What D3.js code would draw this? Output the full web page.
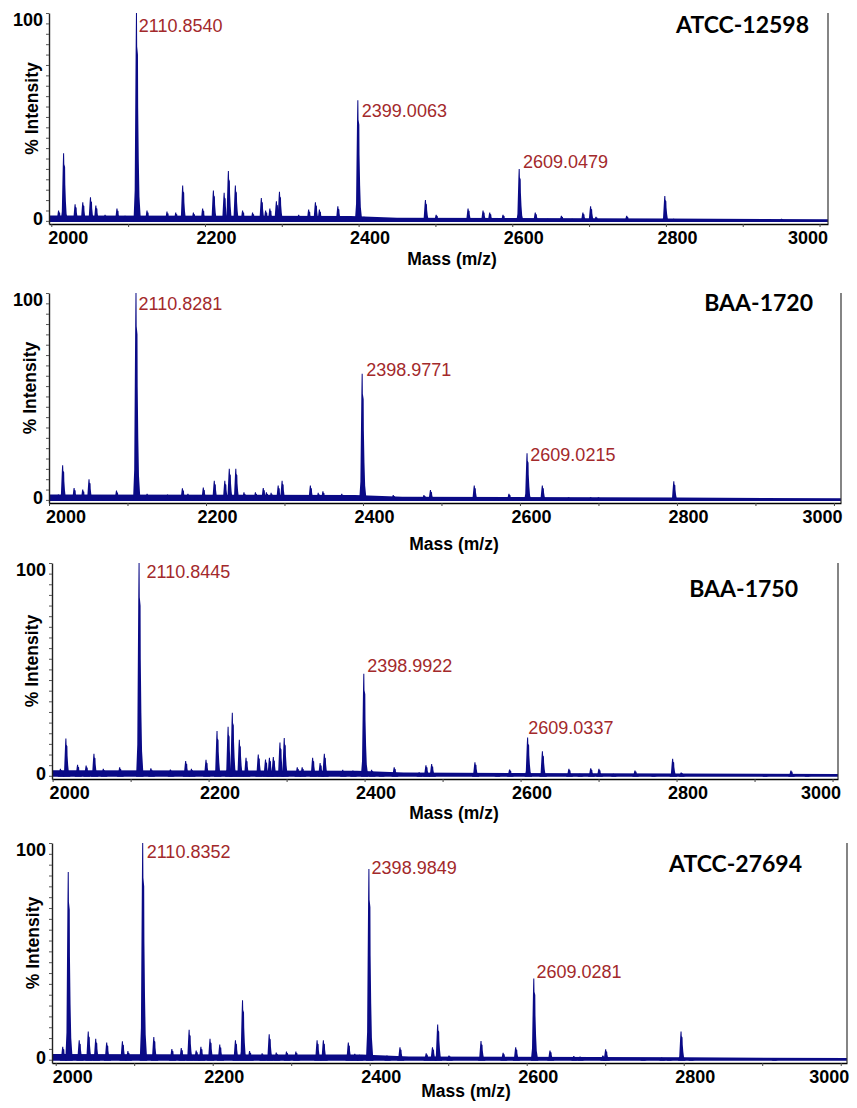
<!DOCTYPE html>
<html>
<head>
<meta charset="utf-8">
<script src="https://cdn.jsdelivr.net/npm/d3@7"></script>
<style>
  body { margin: 0; background: #fff; }
  svg { display: block; }
</style>
</head>
<body>
<svg width="857" height="1108"></svg>
<script>
//strain names, one per panel
const strains = ['ATCC-12598', 'BAA-1720', 'BAA-1750', 'ATCC-27694'];

//labelled peaks: m/z and % intensity
const labelMasses = [
   [2110.8540, 2399.0063, 2609.0479],
   [2110.8281, 2398.9771, 2609.0215],
   [2110.8445, 2398.9922, 2609.0337],
   [2110.8352, 2398.9849, 2609.0281]
];
const labelIntensities = [
   [100, 58, 25],
   [100, 61, 22.6],
   [100, 48, 18],
   [100, 88, 37.5]
];

//other peaks [m/z, % intensity]
const atcc12598Peaks = [
   [2009.5,5],[2016,32.5],[2031,8],[2041,9],[2051,11.4],[2058,7.4],[2070,3],[2085.5,6],[2096,2.5],
   [2124.6,5],[2150.6,4.5],[2162,4],[2171,17],[2185,4],[2197,6],[2211,14.6],[2225,13.5],[2230.5,24],
   [2239.6,17],[2249,5],[2262,4],[2273.4,11],[2279,5],[2284.5,6],[2293,9.4],[2297,14],[2308,2],
   [2322,3],[2335,5.5],[2343.8,9],[2349,5.5],[2373,7],[2385,2],[2407,2],[2424,1.5],[2487,10],
   [2501,3],[2542.5,6],[2553,1],[2562,5],[2570.7,4],[2588,3],[2630,4],[2646,1],[2664,2.5],[2678,1],
   [2692,4],[2702,7],[2709,2],[2720,0.5],[2749,2.5],[2776,0.8],[2798.6,12],[2810,1],[2868,0.3],[2950.5,1]
];
const baa1720Peaks = [
   [2012,2.6],[2017.4,16.8],[2032,5.8],[2043,5],[2051,10],[2065,2.4],[2086,4.5],[2125,3],[2151,2.6],
   [2170,5.6],[2177,3],[2187,2],[2196.6,6],[2210.6,9.3],[2224,9.3],[2229.7,15],[2238,15],[2248.4,3.7],
   [2263,3.7],[2273,5.8],[2277,3.7],[2283,3.4],[2292,7],[2297,9.3],[2307,1.8],[2320,1.8],[2333,7],
   [2343,3.4],[2349,4.2],[2373,3],[2384,1],[2407,1.3],[2438.6,2.4],[2472,1],[2477.7,2.4],[2486,4.8],
   [2502,1],[2541.8,7],[2570,0.8],[2586,3],[2628.5,7],[2662,1.3],[2690,1.3],[2700,1.3],[2747,0.8],
   [2796,9],[2948,0.3]
];
const baa1750Peaks = [
   [2010,3.3],[2017,17.5],[2032,5.2],[2043,4.9],[2053,10.4],[2065,3.3],[2086,4],[2126,3.6],[2151,3],
   [2170.6,7],[2178,3.3],[2196.7,7.5],[2210.8,21],[2225,23],[2230.4,29.6],[2239.4,17],[2248,8.5],
   [2263.7,10],[2273,7.7],[2278,8.5],[2283,8.8],[2291.5,15.6],[2297,17.8],[2313.7,4],[2320,4],
   [2333.4,8.5],[2343,6],[2348.4,10.4],[2372,2.8],[2385,2.5],[2409,2.8],[2421,1.3],[2438,4],[2470,1.7],
   [2478.7,5],[2486,5.5],[2541.5,6.4],[2570,1],[2586,3],[2628,11.5],[2662,3.3],[2676,1],[2690,3.6],
   [2700.5,3.3],[2719,1],[2746.7,2.5],[2770,0.4],[2795,8],[2806,1.6],[2913,0.8],[2946.7,2.5],[2967,0.5]
];
const atcc27694Peaks = [
   [2009,6],[2016,86.6],[2030,9],[2041.5,13],[2051,9.7],[2065,8],[2085,8.5],[2092,4],[2125,10.5],
   [2148,5],[2160,5.4],[2170,13.8],[2179,4.3],[2185,6],[2196.6,9.7],[2209,7],[2229,9],[2238,27.4],
   [2247,4],[2263,3],[2272,11.8],[2281,3.4],[2294,3.8],[2306,3.8],[2333,9],[2341,9],[2372.8,8],
   [2381,2.8],[2387,2.3],[2422,2],[2438.6,5.8],[2472,3],[2480,5.8],[2486.6,16.3],[2501,2],[2541.8,8.6],
   [2570,3.2],[2586,5.8],[2629.7,4.3],[2660,1.7],[2668,1.5],[2697,2],[2700.6,4.8],[2748,0.8],[2772,1],
   [2781,0.5],[2796.6,13],[2809,0.8],[2915,0.6]
];
const spectra = [atcc12598Peaks, baa1720Peaks, baa1750Peaks, atcc27694Peaks];

//baseline noise level along the mass range
const noiseFloor = [[1995,2.6],[2390,2.4],[2450,1.5],[2800,1.1],[3011,0.8]];

const xTicks = [2000, 2100, 2200, 2300, 2400, 2500, 2600, 2700, 2800, 2900, 3000];
const yTicks = [0, 5, 10, 15, 20, 25, 30, 35, 40, 45, 50, 55, 60, 65, 70, 75, 80, 85, 90, 95, 100];

//panel frames (pixels) and mass window
const panels = [
   {top: 13,  bottom: 224,  left: 49, right: 828, xMin: 1997,   xMax: 3011, nameX: 809, nameY: 33,  massX: 452, massY: 265,  yLabX: 38,
    labOff: [[2.3,18.7],[4,17],[3.7,-0.6]]},
   {top: 293, bottom: 503,  left: 49, right: 841, xMin: 2000,   xMax: 3009, nameX: 813, nameY: 311, massX: 454, massY: 550,  yLabX: 36,
    labOff: [[2.6,17.3],[4,2.4],[3.3,7.7]]},
   {top: 563, bottom: 779,  left: 52, right: 838, xMin: 1999.2, xMax: 3007, nameX: 798, nameY: 597, massX: 454, massY: 819,  yLabX: 38,
    labOff: [[7.4,15],[3.4,-1.6],[0.7,-3.3]]},
   {top: 843, bottom: 1063, left: 52, right: 847, xMin: 1995.3, xMax: 3008, nameX: 802, nameY: 872, massX: 466, massY: 1097, yLabX: 39,
    labOff: [[4,15],[2.7,5],[2.7,0]]}
];

const navy = '#0a0a86';
const peakRed = '#a3292b';
const sans = '"Liberation Sans", Arial, sans-serif';

//spike glyph: [pixel offset, fraction of height]
const spikeShape = [[-3,0],[-1.8,0.15],[-1.3,0.5],[-0.8,0.84],[-0.5,1],[0.5,1],[0.7,0.84],[1.5,0.8],
                    [1.7,0.55],[2.3,0.3],[3,0.12],[4.5,0]];
const spikeLine = d3.line();
const spikePath = (px, top, base) =>
   spikeLine(spikeShape.map(([dx, f]) => [px + dx, base - f * (base - top)])) + 'Z';

const svg = d3.select('svg');
svg.append('rect').attr('width', 857).attr('height', 1108).attr('fill', '#fff');

panels.forEach((p, i) => {
   const g = svg.append('g');
   const x = d3.scaleLinear().domain([p.xMin, p.xMax]).range([p.left, p.right]);
   const y = d3.scaleLinear().domain([-1.5, 100]).range([p.bottom, p.top]);

   //noise band along the baseline
   g.append('path').datum(noiseFloor)
      .attr('d', d3.area().x(d => x(Math.min(Math.max(d[0], p.xMin), p.xMax))).y0(y(0) + 1).y1(d => y(d[1])))
      .attr('fill', navy);

   //peaks
   const labelled = labelMasses[i].map((m, j) => [m, labelIntensities[i][j]]);
   g.selectAll('.peak').data(spectra[i].concat(labelled)).join('path')
      .attr('class', 'peak')
      .attr('d', d => spikePath(x(d[0]), y(d[1]), y(0) + 1))
      .attr('fill', navy);

   //peak mass labels
   g.selectAll('.mlabel').data(labelled).join('text')
      .attr('class', 'mlabel')
      .attr('x', (d, j) => x(d[0]) + p.labOff[j][0])
      .attr('y', (d, j) => y(d[1]) + p.labOff[j][1])
      .attr('font-family', sans).attr('font-size', 18).attr('fill', peakRed)
      .text(d => d[0].toFixed(4));

   //x axis
   const xg = g.append('g').attr('transform', `translate(0,${p.bottom})`)
      .call(d3.axisBottom(x).tickValues(xTicks).tickSize(3).tickSizeOuter(0).tickPadding(4)
         .tickFormat(d => d % 200 === 0 ? d : ''));
   xg.select('.domain').attr('stroke', '#000').attr('stroke-width', 1.6);
   xg.selectAll('.tick line').attr('stroke', '#444');
   xg.selectAll('.tick text')
      .attr('font-family', sans).attr('font-size', 18).attr('font-weight', 'bold').attr('fill', '#000')
      .attr('dx', 11);
   xg.selectAll('.tick text').filter(d => d === 2000).attr('text-anchor', 'start').attr('dx', -3.5);
   xg.selectAll('.tick text').filter(d => d === 3000).attr('text-anchor', 'end').attr('dx', 8);

   //y axis
   const yg = g.append('g').attr('transform', `translate(${p.left},0)`)
      .call(d3.axisLeft(y).tickValues(yTicks).tickSize(3).tickSizeOuter(0).tickPadding(3)
         .tickFormat(d => (d === 0 || d === 100) ? d : ''));
   yg.select('.domain').attr('stroke', '#222').attr('stroke-width', 1.4);
   yg.selectAll('.tick line').attr('stroke', '#555');
   yg.selectAll('.tick text')
      .attr('font-family', sans).attr('font-size', 18).attr('font-weight', 'bold').attr('fill', '#000')
      .attr('dy', d => d === 100 ? '0.72em' : '0.2em');

   //right frame line
   g.append('line')
      .attr('x1', p.right).attr('x2', p.right).attr('y1', p.top).attr('y2', p.bottom)
      .attr('stroke', '#333').attr('stroke-width', 1.2);

   //axis titles
   g.append('text')
      .attr('x', p.massX).attr('y', p.massY).attr('text-anchor', 'middle')
      .attr('font-family', sans).attr('font-size', 17.5).attr('font-weight', 'bold')
      .text('Mass (m/z)');
   g.append('text')
      .attr('transform', `translate(${p.yLabX},${(p.top + p.bottom) / 2 - 10}) rotate(-90)`)
      .attr('text-anchor', 'middle')
      .attr('font-family', sans).attr('font-size', 17.5).attr('font-weight', 'bold')
      .text('% Intensity');

   //strain name
   g.append('text')
      .attr('x', p.nameX).attr('y', p.nameY).attr('text-anchor', 'end')
      .attr('font-family', 'Lato, "Open Sans", sans-serif').attr('font-size', 23).attr('font-weight', 'bold')
      .text(strains[i]);
});
</script>
</body>
</html>
